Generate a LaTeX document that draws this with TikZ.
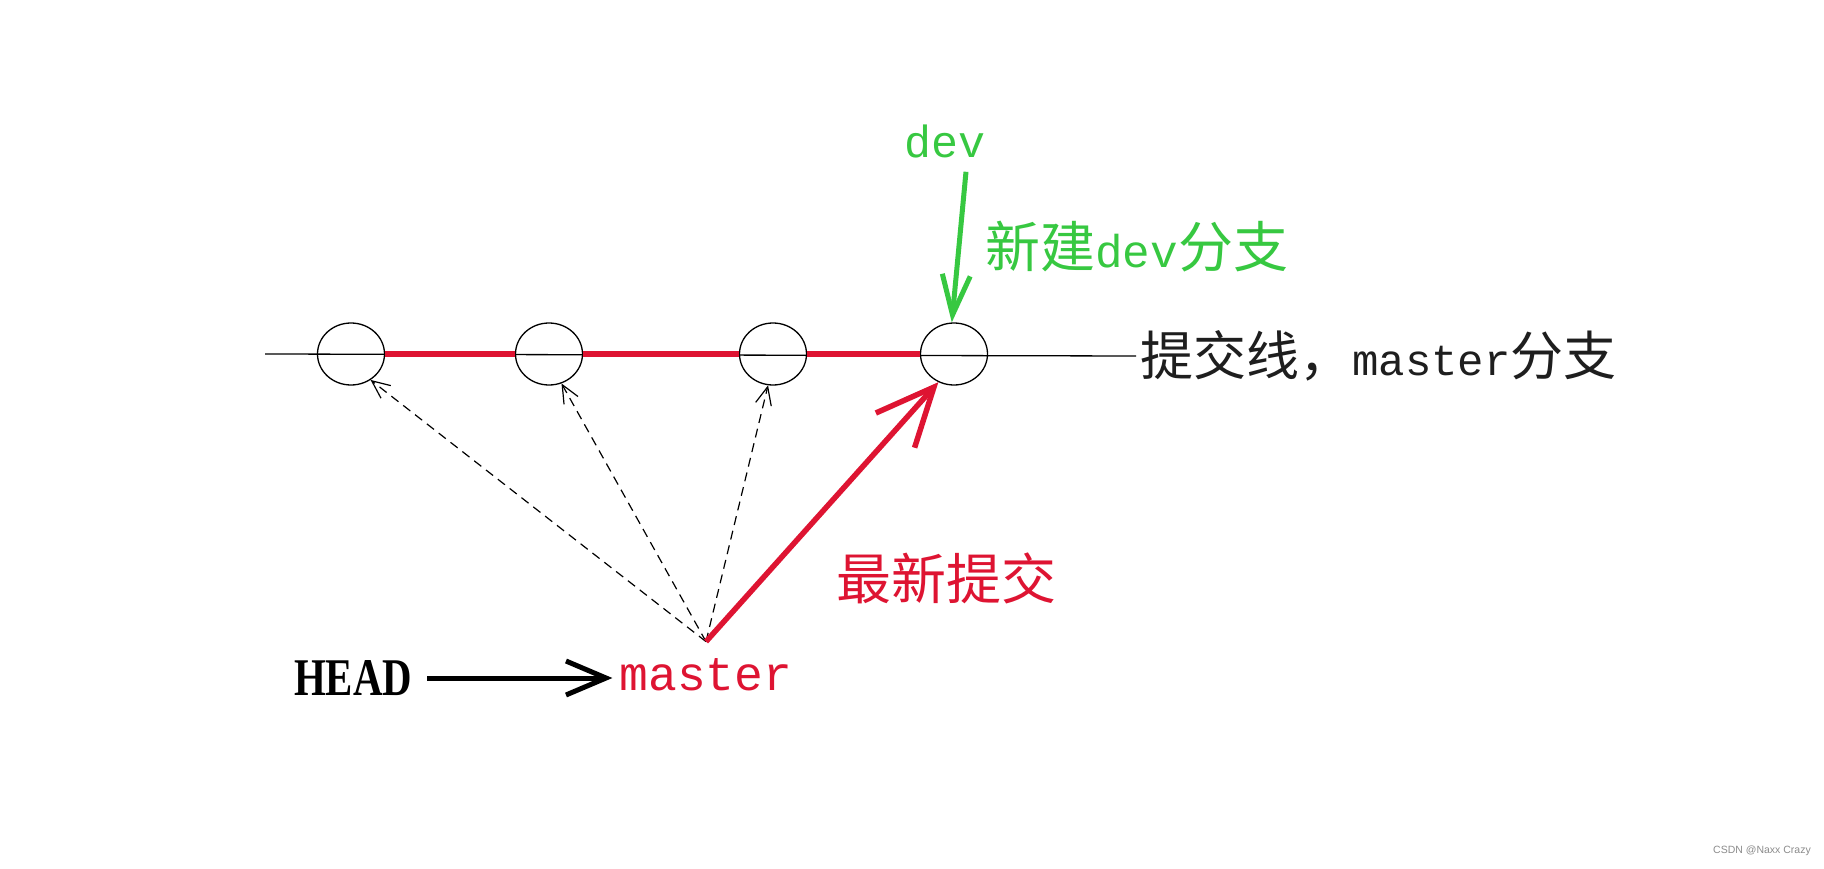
\documentclass[tikz,border=0pt]{standalone}
\usepackage{fontspec}
\usepackage{graphicx}
\setmainfont{Liberation Serif}
\newfontfamily\cjk{Noto Sans CJK SC}
\newfontfamily\monof{Liberation Mono}
\newfontfamily\sansf{Liberation Sans}
\usetikzlibrary{arrows.meta,shapes.geometric,calc}
\definecolor{gitgreen}{RGB}{55,200,65}
\definecolor{gitred}{RGB}{222,20,50}
\definecolor{txtdark}{RGB}{30,30,30}
\begin{document}
\begin{tikzpicture}[x=1pt,y=-1pt,
  commit/.style={ellipse,draw=black,line width=1.3pt,minimum width=67pt,minimum height=62pt,inner sep=0pt},
  baseline/.style={line width=1.3pt,black},
  redseg/.style={line width=6pt,gitred},
  redarrow/.style={line width=5.5pt,gitred,-{Straight Barb[length=58pt,width=52pt]}},
  greenarrow/.style={line width=5pt,gitgreen,-{Straight Barb[length=40pt,width=28pt]}},
  blackarrow/.style={line width=5pt,black,-{Straight Barb[length=40pt,width=34pt]}},
  dasharrow/.style={line width=1.2pt,black,dash pattern=on 9pt off 6pt,-{Straight Barb[length=18pt,width=16pt]}},
]
\useasboundingbox (0,0) rectangle (1824,869);
\fill[white] (0,0) rectangle (1824,869);

% commits
\node[commit] (c1) at (351,354) {};
\node[commit] (c2) at (549,354) {};
\node[commit] (c3) at (773,354) {};
\node[commit] (c4) at (954,354) {};

% labels
\node[anchor=west,inner sep=4pt,text=txtdark] (lbl) at (1136,356)
  {\fontsize{53}{60}\selectfont\cjk 提交线，\monof\fontsize{44}{60}\selectfont master\cjk\fontsize{53}{60}\selectfont 分支};
\node[inner sep=0pt,text=gitgreen] (dev) at (945,141) {\fontsize{45}{50}\selectfont\monof dev};
\node[anchor=west,inner sep=0pt,text=gitgreen] (newdev) at (985,247)
  {\fontsize{55}{60}\selectfont\cjk 新建\monof\fontsize{46}{60}\selectfont dev\cjk\fontsize{55}{60}\selectfont 分支};
\node[anchor=west,inner sep=0pt,text=gitred] (latest) at (836,578) {\fontsize{55}{60}\selectfont\cjk 最新提交};
\node[inner sep=15pt] (head) at (353,678) {\fontsize{53}{60}\selectfont\bfseries\scalebox{0.77}[1]{HEAD}};
\node[inner sep=7pt,text=gitred] (master) at (706,675) {\fontsize{48}{50}\selectfont\monof master};
\node[anchor=east,inner sep=0pt,text=black!45] (wm) at (1811,851) {\sansf\fontsize{10.5}{12}\selectfont CSDN @Naxx Crazy};

% commit line
\coordinate (L) at (265,354);
\draw[baseline] (L) -- (lbl.west);
\draw[redseg] (c1.east) -- (c2.west);
\draw[redseg] (c2.east) -- (c3.west);
\draw[redseg] (c3.east) -- (c4.west);

% arrows
\coordinate (o) at ($(master.north)+(0,-10)$);
\draw[dasharrow] (o) -- (c1.-53);
\draw[dasharrow] (o) -- (c2.-67);
\draw[dasharrow] (o) -- (c3.-99);
\draw[redarrow] (o) -- (c4.-119);
\draw[greenarrow] ($(dev.south)+(21,14)$) -- (c4.94);
\draw[blackarrow] (head.east) -- (head.east -| master.west);
\end{tikzpicture}
\end{document}
